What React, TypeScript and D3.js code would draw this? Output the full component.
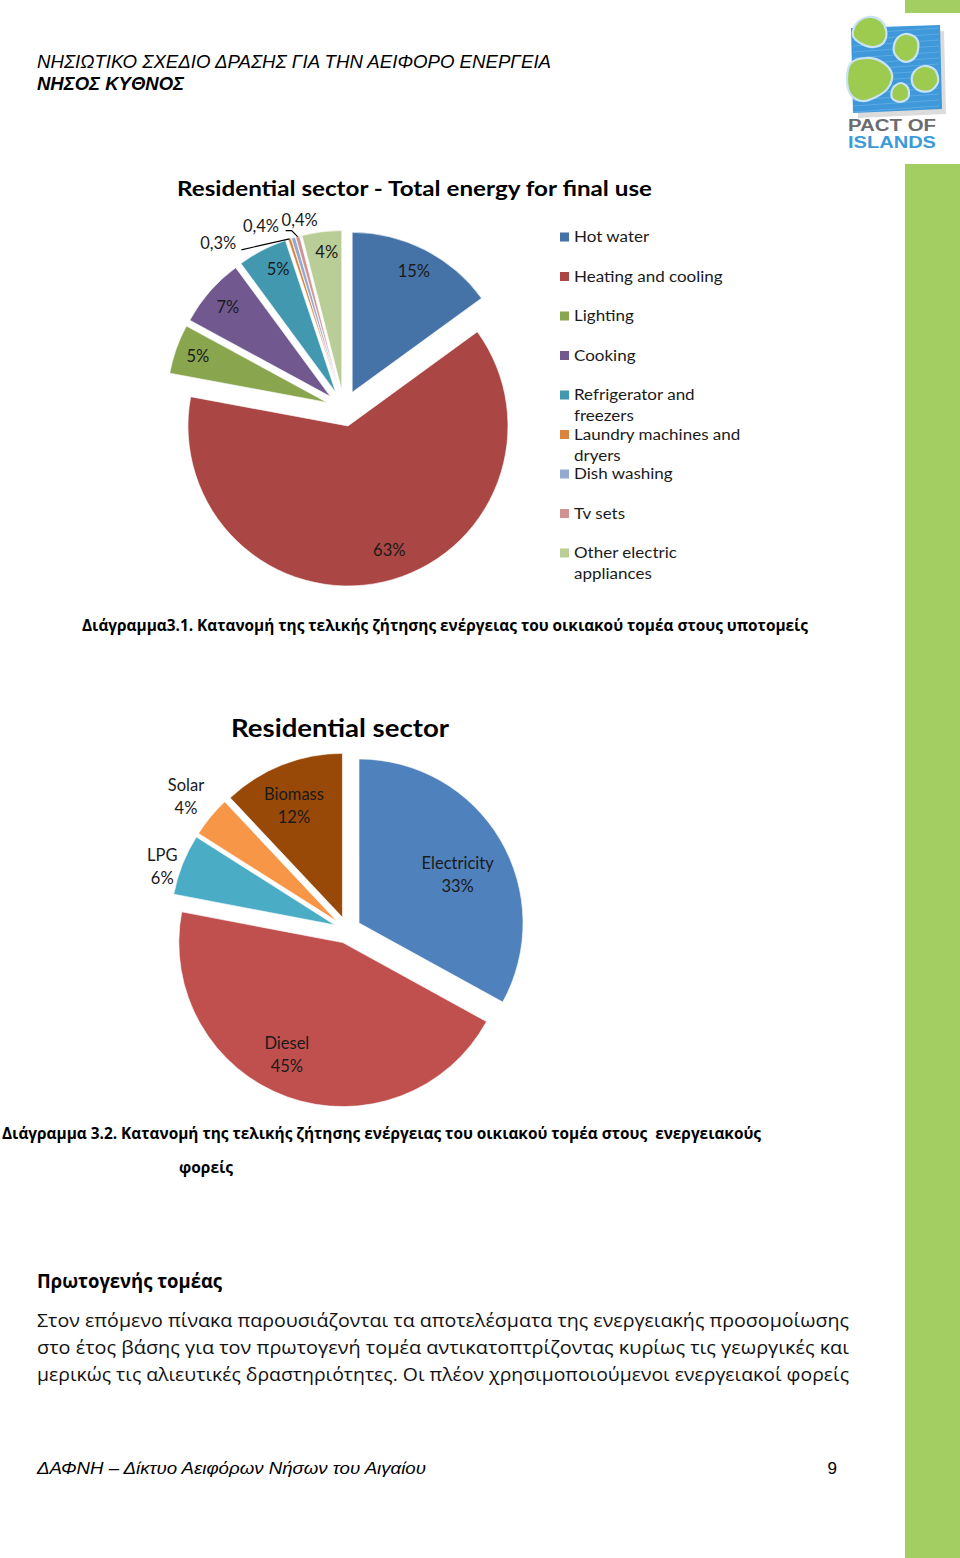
import { useRef, useEffect } from 'react';
import * as d3 from 'd3';

// ---- Διάγραμμα 3.1: final energy use by end use (%)
const endUses = [
  'Hot water', 'Heating and cooling', 'Lighting', 'Cooking', 'Refrigerator and freezers',
  'Laundry machines and dryers', 'Dish washing', 'Tv sets', 'Other electric appliances',
];
const endUseShares = [15, 63, 5, 7, 5, 0.3, 0.4, 0.4, 4];
const endUseLabels = ['15%', '63%', '5%', '7%', '5%', '0,3%', '0,4%', '0,4%', '4%'];
// legend entries wrap like in the original
const endUseLegendLines = [
  ['Hot water'], ['Heating and cooling'], ['Lighting'], ['Cooking'], ['Refrigerator and', 'freezers'],
  ['Laundry machines and', 'dryers'], ['Dish washing'], ['Tv sets'], ['Other electric', 'appliances'],
];

// ---- Διάγραμμα 3.2: final energy by carrier (%)
const carriers = ['Electricity', 'Diesel', 'LPG', 'Solar', 'Biomass'];
const carrierShares = [33, 45, 6, 4, 12];
const carrierLabels = ['33%', '45%', '6%', '4%', '12%'];

// ---- page texts
const headerLines = ['ΝΗΣΙΩΤΙΚΟ ΣΧΕΔΙΟ ΔΡΑΣΗΣ ΓΙΑ ΤΗΝ ΑΕΙΦΟΡΟ ΕΝΕΡΓΕΙΑ', 'ΝΗΣΟΣ ΚΥΘΝΟΣ'];
const chartTitles = ['Residential sector - Total energy for final use', 'Residential sector'];
const caption1 = 'Διάγραμμα3.1. Κατανομή της τελικής ζήτησης ενέργειας του οικιακού τομέα στους υποτομείς';
const caption2 = ['Διάγραμμα 3.2. Κατανομή της τελικής ζήτησης ενέργειας του οικιακού τομέα στους  ενεργειακούς', 'φορείς'];
const sectionHeading = 'Πρωτογενής τομέας';
const bodyLines = [
  'Στον επόμενο πίνακα παρουσιάζονται τα αποτελέσματα της ενεργειακής προσομοίωσης',
  'στο έτος βάσης για τον πρωτογενή τομέα αντικατοπτρίζοντας κυρίως τις γεωργικές και',
  'μερικώς τις αλιευτικές δραστηριότητες. Οι πλέον χρησιμοποιούμενοι ενεργειακοί φορείς',
];
const footerText = 'ΔΑΦΝΗ – Δίκτυο Αειφόρων Νήσων του Αιγαίου';
const pageNumber = '9';

// ---- styles
const endUseColors = ['#4572A7', '#AA4643', '#89A54E', '#71588F', '#4198AF', '#DB843D', '#93A9CF', '#D19392', '#B9CD96'];
const carrierColors = ['#4F81BD', '#C0504D', '#4BACC6', '#F79646', '#984807'];
const GREEN = '#A3CE62';
const CHART_FONT = "Lato, 'Open Sans', sans-serif";
const GREEK_FONT = "'Open Sans', 'Noto Sans', sans-serif";
const HEADER_FONT = "'Liberation Sans', Arial, sans-serif";

// label placement measured from the exploded slice tip: [distance, angle nudge in degrees]
const endUseLabelPos: [number, number][] = [[136, 0], [131, -5.6], [137, 0], [136, 0], [136, 2.3], [191, -21.2], [182, -8.8], [175, 2], [139, 1]];
const carrierLabelPos: [number, number][] = [[110, 4.3], [125, 6.8], [182, -3.1], [196, 0], [122, -1.8]];

type Sel = d3.Selection<any, unknown, null, undefined>;

interface TextOpts {
  size: number; weight?: string; italic?: boolean; family?: string;
  fill?: string; anchor?: string; length?: number;
}

function addText(parent: Sel, x: number, y: number, str: string, o: TextOpts) {
  const t = parent.append('text')
    .attr('x', x).attr('y', y)
    .attr('font-size', o.size)
    .attr('font-family', o.family ?? CHART_FONT)
    .attr('fill', o.fill ?? '#000')
    .attr('text-anchor', o.anchor ?? 'start')
    .style('white-space', 'pre')
    .text(str);
  if (o.weight) t.attr('font-weight', o.weight);
  if (o.italic) t.attr('font-style', 'italic');
  if (o.length) t.attr('textLength', o.length).attr('lengthAdjust', 'spacingAndGlyphs');
  return t;
}

interface PieOpts {
  values: number[]; colors: string[]; cx: number; cy: number; r: number; explode: number;
  labels: string[][]; place: [number, number][]; lineGap: number;
}

// exploded pie, returns slice geometry for leader lines
function drawPie(g: Sel, o: PieOpts) {
  const arcs = d3.pie<number>().sort(null).value(d => d)(o.values);
  const arc = d3.arc<d3.PieArcDatum<number>>().innerRadius(0).outerRadius(o.r);
  const geo = arcs.map((p, i) => {
    const mid = (p.startAngle + p.endAngle) / 2;
    const vx = o.cx + Math.sin(mid) * o.explode;
    const vy = o.cy - Math.cos(mid) * o.explode;
    g.append('path')
      .attr('transform', `translate(${vx},${vy})`)
      .attr('d', arc(p) as string)
      .attr('fill', o.colors[i])
      .attr('stroke', '#fff')
      .attr('stroke-width', 0.6);
    const [dist, nudge] = o.place[i];
    const a = mid + nudge * Math.PI / 180;
    const lx = vx + Math.sin(a) * dist;
    const ly = vy - Math.cos(a) * dist;
    return { mid, vx, vy, lx, ly, ox: vx + Math.sin(mid) * o.r, oy: vy - Math.cos(mid) * o.r };
  });
  geo.forEach((s, i) => {
    const lines = o.labels[i];
    lines.forEach((ln, k) => {
      addText(g, s.lx, s.ly + (k - (lines.length - 1) / 2) * o.lineGap, ln, { size: 16.5, anchor: 'middle', fill: '#1a1a1a' })
        .attr('dy', '0.35em');
    });
  });
  return geo;
}

function drawLogo(g: Sel) {
  const blob = d3.line<[number, number]>().curve(d3.curveCatmullRomClosed.alpha(0.5));
  // shadow + scribbled blue square
  g.append('path').attr('d', 'M856,34 L944,31 L946,114 L858,118 Z').attr('fill', '#dcdcdc');
  g.append('path').attr('d', 'M851,28 L940,25 L942,109 L853,113 Z').attr('fill', '#3E98DA');
  for (let i = 0; i < 14; i++) {
    const y = 30 + i * 6;
    g.append('path')
      .attr('d', `M853,${y + 4} L939,${y - 2}`)
      .attr('stroke', '#7FBDEB').attr('stroke-width', 0.7).attr('opacity', 0.7);
  }
  const islands: [number, number][][] = [
    [[856, 24], [868, 17], [880, 20], [886, 30], [884, 42], [874, 47], [862, 44], [853, 36]],
    [[896, 40], [905, 34], [916, 38], [918, 50], [912, 60], [902, 61], [894, 52]],
    [[851, 63], [866, 58], [882, 62], [892, 74], [888, 88], [876, 97], [862, 101], [851, 95], [847, 78]],
    [[914, 72], [924, 66], [935, 70], [938, 82], [930, 91], [918, 90], [912, 82]],
    [[893, 88], [901, 83], [908, 88], [908, 98], [900, 102], [892, 98]],
  ];
  islands.forEach(pts => {
    g.append('path').attr('d', blob(pts) as string)
      .attr('fill', '#9DCB4F').attr('stroke', '#C8E3F6').attr('stroke-width', 2.2);
  });
  addText(g, 848, 131, 'PACT OF', { size: 16, weight: 'bold', family: HEADER_FONT, fill: '#6B6C6F', length: 88 });
  addText(g, 848, 148, 'ISLANDS', { size: 16, weight: 'bold', family: HEADER_FONT, fill: '#3B9AD9', length: 88 });
}

export default function App() {
  const svgRef = useRef<SVGSVGElement | null>(null);

  useEffect(() => {
    const svg = d3.select(svgRef.current) as unknown as Sel;
    svg.selectAll('*').remove();
    svg.append('rect').attr('width', 960).attr('height', 1558).attr('fill', '#fff');

    // green band on the right edge
    svg.append('rect').attr('x', 905).attr('y', 0).attr('width', 55).attr('height', 13).attr('fill', GREEN);
    svg.append('rect').attr('x', 905).attr('y', 164).attr('width', 55).attr('height', 1394).attr('fill', GREEN);
    drawLogo(svg);

    // header
    addText(svg, 37, 68, headerLines[0], { size: 18, italic: true, family: HEADER_FONT, length: 514 });
    addText(svg, 37, 90, headerLines[1], { size: 18, italic: true, weight: 'bold', family: HEADER_FONT, length: 147 });

    // ---- chart 3.1
    addText(svg, 414.5, 196, chartTitles[0], { size: 21, weight: 'bold', anchor: 'middle', length: 475 });
    const geo1 = drawPie(svg, {
      values: endUseShares, colors: endUseColors, cx: 344, cy: 408.4, r: 160, explode: 18,
      labels: endUseLabels.map(l => [l]), place: endUseLabelPos, lineGap: 23,
    });
    // leader lines for the tiny slices
    const ldr = d3.line();
    const la = geo1[5];
    svg.append('path')
      .attr('d', ldr([[la.lx + 23, la.ly + 7], [la.ox, la.oy]]) as string)
      .attr('fill', 'none').attr('stroke', '#000').attr('stroke-width', 1.2);
    const tv = geo1[7];
    svg.append('path')
      .attr('d', ldr([[tv.lx - 14, tv.ly + 10], [tv.lx - 8, tv.ly + 10], [tv.ox, tv.oy]]) as string)
      .attr('fill', 'none').attr('stroke', '#000').attr('stroke-width', 1.2);

    // legend (smaller font stretched a bit so wrapped lines don't collide)
    const legendY = d3.scaleLinear().domain([0, endUses.length - 1]).range([237, 553]);
    endUses.forEach((name, i) => {
      const y = legendY(i);
      svg.append('rect').attr('x', 560).attr('y', y - 4.5).attr('width', 9).attr('height', 9).attr('fill', endUseColors[i]);
      endUseLegendLines[i].forEach((ln, k) => {
        const t = addText(svg, 574, y + k * 21, ln, { size: 15.5, fill: '#1a1a1a' })
          .attr('dy', '0.35em').attr('data-name', name);
        const node = t.node() as SVGTextElement;
        const w = node.getComputedTextLength();
        if (w > 0) t.attr('textLength', w * 1.097).attr('lengthAdjust', 'spacingAndGlyphs');
      });
    });

    addText(svg, 82, 631, caption1, { size: 16, weight: 'bold', family: GREEK_FONT, length: 726 });

    // ---- chart 3.2
    addText(svg, 340, 737, chartTitles[1], { size: 25, weight: 'bold', anchor: 'middle', length: 218 });
    drawPie(svg, {
      values: carrierShares, colors: carrierColors, cx: 347.4, cy: 929.9, r: 164, explode: 13.5,
      labels: carriers.map((c, i) => [c, carrierLabels[i]]), place: carrierLabelPos, lineGap: 23,
    });

    addText(svg, 2, 1139, caption2[0], { size: 16, weight: 'bold', family: GREEK_FONT, length: 759 });
    addText(svg, 179, 1173, caption2[1], { size: 16, weight: 'bold', family: GREEK_FONT, length: 54 });

    // ---- following section text
    addText(svg, 37, 1288, sectionHeading, { size: 19, weight: 'bold', family: GREEK_FONT, length: 185 });
    bodyLines.forEach((ln, i) => {
      addText(svg, 37, 1327 + i * 27, ln, { size: 19, family: GREEK_FONT, fill: '#111', length: 812 });
    });

    // footer
    addText(svg, 37, 1474, footerText, { size: 17, italic: true, family: HEADER_FONT, length: 389 });
    addText(svg, 837, 1474, pageNumber, { size: 17, family: HEADER_FONT, anchor: 'end' });
  }, []);

  return (
    <div style={{ position: 'absolute', left: 0, top: 0 }}>
      <svg ref={svgRef} width={960} height={1558} style={{ display: 'block' }} />
    </div>
  );
}
